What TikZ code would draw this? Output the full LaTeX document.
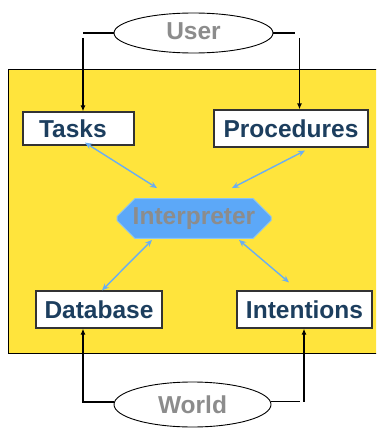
\documentclass[tikz,border=0pt]{standalone}
\usepackage{fontspec}
\setmainfont{Liberation Sans}
\usetikzlibrary{shapes.geometric,shapes.misc,arrows.meta,calc}
\definecolor{panel}{HTML}{FFE43C}
\definecolor{labelblue}{HTML}{1C3E5E}
\definecolor{softgray}{HTML}{8C8C8C}
\definecolor{linkblue}{HTML}{6AAEF2}
\definecolor{interpfill}{HTML}{5CA8F8}
\definecolor{interpedge}{HTML}{8CC4F2}
\tikzset{
  bigtext/.style={font=\fontsize{24.5}{28}\selectfont\bfseries},
  module/.style={draw=black!80, line width=1.2pt, fill=white, bigtext,
    text=labelblue, inner sep=0pt},
  agent/.style={ellipse, draw=black, line width=0.9pt, fill=white, bigtext,
    text=softgray, inner sep=0pt},
  feed/.style={draw=black, line width=1.4pt},
  feedarrow/.style={feed, -{Latex[length=6pt,width=5pt]}},
  link/.style={draw=linkblue, line width=1.4pt,
    {Stealth[length=7pt,width=6pt]}-{Stealth[length=7pt,width=6pt]}}
}
\begin{document}
\begin{tikzpicture}[x=1pt,y=-1pt]
\useasboundingbox (0,0) rectangle (376,428);
\begin{scope}
  \clip (0,0) rectangle (376,428);
  \draw[fill=panel, line width=1pt] (8,69) rectangle (380,353);
\end{scope}

% external agents
\node[agent, minimum width=159pt, minimum height=40pt] (User) at (193.5,33) {\raisebox{4.5pt}{User}};
\node[agent, minimum width=157pt, minimum height=45pt] (World) at (192.5,404.5) {\raisebox{-1.5pt}{World}};

% knowledge modules
\node[module, minimum width=111pt, minimum height=33pt, text width=79pt,
  inner xsep=16pt, align=left] (Tasks) at (78.5,128.5) {Tasks};
\node[module, minimum width=154pt, minimum height=37pt] (Procedures) at (291,128.5) {Procedures};
\node[module, minimum width=126pt, minimum height=37pt] (Database) at (99,309.5) {Database};
\node[module, minimum width=135pt, minimum height=37pt] (Intentions) at (304.5,309.5) {Intentions};

% central interpreter
\node[chamfered rectangle, chamfered rectangle xsep=9pt, chamfered rectangle ysep=9pt,
  fill=interpfill, draw=interpedge, line width=1pt, bigtext, text=softgray,
  minimum width=154pt, minimum height=39pt, inner sep=0pt]
  (Interpreter) at (194,218.5) {Interpreter};

% user input
\coordinate (ul) at (83,33);
\coordinate (urh) at (295,33);
\coordinate (urv) at (299.5,38);
\draw[feed] (User.west) -- (ul);
\draw[feedarrow] ($(ul)+(0,5)$) -- (ul |- Tasks.north);
\draw[feed] (User.east) -- (urh);
\draw[feedarrow] (urv) -- (urv |- Procedures.north);

% world input
\coordinate (wl) at (83,402);
\coordinate (wrh) at (300,401.5);
\coordinate (wrv) at (304,401.5);
\draw[feedarrow] (World.west |- wl) -- (wl) -- (wl |- Database.south);
\draw[feed] (World.east |- wrh) -- (wrh);
\draw[feedarrow] (wrv) -- (wrv |- Intentions.south);

% interpreter links
\draw[link] ($(Tasks.south)+(6.5,-3)$) -- ($(Interpreter.north)+(-37,-10)$);
\draw[link] ($(Procedures.south)+(14,3)$) -- ($(Interpreter.north)+(38,-10)$);
\draw[link] ($(Interpreter.south)+(-42,1)$) -- ($(Database.north)+(3,0)$);
\draw[link] ($(Interpreter.south)+(45,1)$) -- ($(Intentions.north)+(-15.5,-8)$);
\end{tikzpicture}
\end{document}
